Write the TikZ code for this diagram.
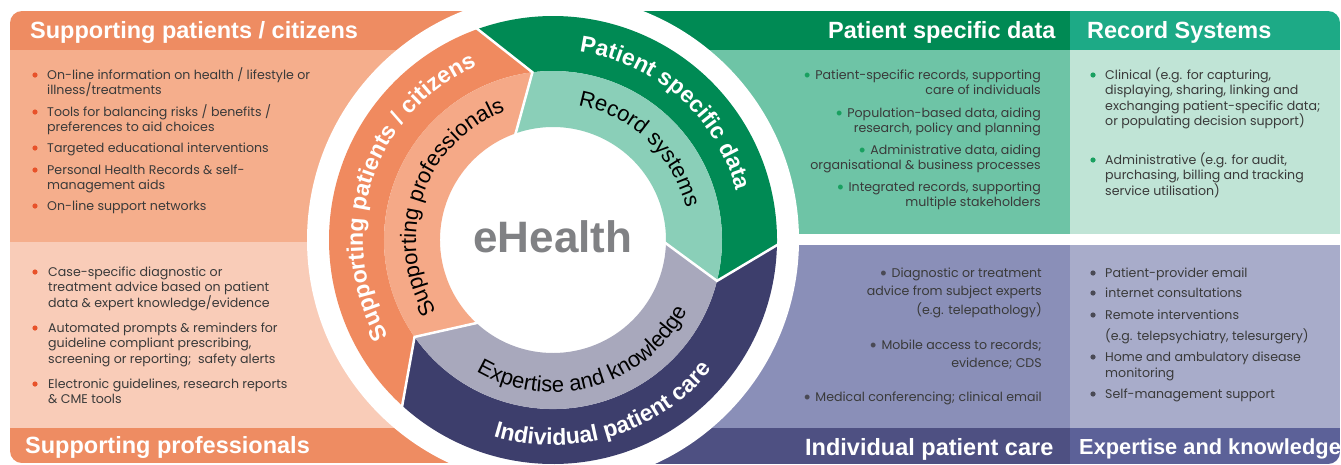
\documentclass[tikz,border=0pt]{standalone}
\usepackage{fontspec}
\setmainfont{Liberation Sans}
\newfontfamily\bodyfont{Poppins}
\newfontfamily\bulfont{Liberation Sans}
\usetikzlibrary{decorations.text}
\definecolor{orH}{HTML}{EE8C62}
\definecolor{orT}{HTML}{F5AE8C}
\definecolor{orB}{HTML}{F9CCB8}
\definecolor{gH}{HTML}{008A54}
\definecolor{rsH}{HTML}{1DAA86}
\definecolor{gB}{HTML}{6EC4A6}
\definecolor{rsB}{HTML}{C0E4D6}
\definecolor{pB}{HTML}{8A8FB8}
\definecolor{eB}{HTML}{A8ACCA}
\definecolor{pH}{HTML}{4E5082}
\definecolor{eH}{HTML}{5C6198}
\definecolor{ringOr}{HTML}{F08A5F}
\definecolor{ringOrL}{HTML}{F5A987}
\definecolor{ringG}{HTML}{008A54}
\definecolor{ringGL}{HTML}{8ACFB8}
\definecolor{ringN}{HTML}{3D3E6C}
\definecolor{ringNL}{HTML}{A8A8BC}
\definecolor{txt}{HTML}{3A3A3A}
\definecolor{obul}{HTML}{E8522A}
\definecolor{gbul}{HTML}{19A060}
\definecolor{pbul}{HTML}{4A4A55}
\definecolor{ehg}{HTML}{808184}
\newcommand\bul[1]{{\color{#1}\bulfont\fontsize{18}{18}\selectfont\raisebox{-2.5pt}{•}}\hspace{5pt}}
\newcommand\outerfont{\color{white}\fontsize{23}{23}\selectfont\bfseries}
\newcommand\innerfont{\color{black}\fontsize{22}{22}\selectfont}
\tikzset{
  hdr/.style={font=\fontsize{23.5}{26}\selectfont\bfseries, text=white, inner sep=0pt, anchor=base west},
  body/.style={font=\bodyfont\fontsize{12.6}{15.5}\selectfont, text=txt, inner sep=0pt, align=left, anchor=base west},
  bodyR/.style={body, align=right, anchor=base east},
  bodyRw/.style={bodyR, font=\bodyfont\fontsize{12.6}{18.5}\selectfont},
  chev/.style={draw=white, line width=2.5pt, line join=miter},
}
\begin{document}
\begin{tikzpicture}[x=1pt,y=-1pt]
\useasboundingbox (0,0) rectangle (1341,464);
\fill[white] (0,0) rectangle (1341,464);
% left panel
\begin{scope}
\clip[rounded corners=12] (10,11) rectangle (620,463);
\fill[orH] (10,11) rectangle (620,463);
\fill[orT] (10,50) rectangle (620,242);
\fill[orB] (10,242) rectangle (620,428);
\end{scope}
% right panel
\begin{scope}
\clip[rounded corners=12] (500,11) rectangle (1340,464);
\fill[gH] (500,11) rectangle (1070,50);
\fill[rsH] (1070,11) rectangle (1340,50);
\fill[gB] (500,50) rectangle (1070,234);
\fill[rsB] (1070,50) rectangle (1340,234);
\fill[pB] (500,245) rectangle (1070,428);
\fill[eB] (1070,245) rectangle (1340,428);
\fill[pH] (500,428) rectangle (1070,464);
\fill[eH] (1070,428) rectangle (1340,464);
\end{scope}
% ring
\begin{scope}[shift={(553,240)}, x=1pt, y=1pt]
\fill[white] (0,0) circle[radius=246];
\fill[ringOr] (228:224) arc[start angle=228, end angle=110, radius=224] -- (97:169) arc[start angle=97, end angle=215, radius=169] -- cycle;
\fill[ringOrL] (215:169) arc[start angle=215, end angle=97, radius=169] -- (110:113) arc[start angle=110, end angle=228, radius=113] -- cycle;
\fill[ringG] (110:224) arc[start angle=110, end angle=-1, radius=224] -- (-14:169) arc[start angle=-14, end angle=97, radius=169] -- cycle;
\fill[ringGL] (97:169) arc[start angle=97, end angle=-14, radius=169] -- (-1:113) arc[start angle=-1, end angle=110, radius=113] -- cycle;
\fill[ringN] (-1:224) arc[start angle=-1, end angle=-132, radius=224] -- (-145:169) arc[start angle=-145, end angle=-14, radius=169] -- cycle;
\fill[ringNL] (-14:169) arc[start angle=-14, end angle=-145, radius=169] -- (-132:113) arc[start angle=-132, end angle=-1, radius=113] -- cycle;
\draw[chev] (110:226) -- (97:169) -- (110:111);
\draw[chev] (-1:226) -- (-14:169) -- (-1:111);
\draw[chev] (-132:226) -- (-145:169) -- (-132:111);
% ring labels
\path[decorate, decoration={text along path, text align=center, text={|\outerfont|Supporting patients / citizens}}] (215:190) arc[start angle=215, end angle=109, radius=190];
\path[decorate, decoration={text along path, text align=center, text={|\outerfont|Patient specific data}}] (88:190) arc[start angle=88, end angle=9, radius=190];
\path[decorate, decoration={text along path, text align=center, text={|\outerfont|Individual patient care}}] (248:205) arc[start angle=248, end angle=326, radius=205];
\path[decorate, decoration={text along path, text align=center, text={|\innerfont|Supporting professionals}}] (216:137) arc[start angle=216, end angle=106, radius=137];
\path[decorate, decoration={text along path, text align=center, text={|\innerfont|Record systems}}] (84:137) arc[start angle=84, end angle=9, radius=137];
\path[decorate, decoration={text along path, text align=center, text={|\innerfont|Expertise and knowledge}}] (236:152) arc[start angle=236, end angle=336, radius=152];
\node[font=\fontsize{44}{44}\selectfont\bfseries, text=ehg, inner sep=0pt] (eh) at (0,3) {eHealth};
\end{scope}
% headers
\node[hdr] (h1) at (30,38) {Supporting patients / citizens};
\node[hdr] (h2) at (25,453) {Supporting professionals};
\node[hdr] (h3) at (828,38) {Patient specific data};
\node[hdr] (h4) at (1087,38) {Record Systems};
\node[hdr] (h5) at (805,455) {Individual patient care};
\node[hdr, font=\fontsize{21.8}{24}\selectfont\bfseries] (h6) at (1079,454) {Expertise and knowledge};
% left top
\foreach \y in {75,112,148,170,206} \fill[obul] (35,\y) circle[radius=2.6];
\node[body] (lt1) at (47,94.5) {On-line information on health / lifestyle or\\illness/treatments};
\node[body] (lt2) at (47,131.5) {Tools for balancing risks / benefits /\\preferences to aid choices};
\node[body] (lt3) at (47,152) {Targeted educational interventions};
\node[body] (lt4) at (47,189.5) {Personal Health Records \& self-\\management aids};
\node[body] (lt5) at (47,210) {On-line support networks};
% left bottom
\foreach \y in {272,328,384} \fill[obul] (35,\y) circle[radius=2.6];
\node[body] (lb1) at (48,307) {Case-specific diagnostic or\\treatment advice based on patient\\data \& expert knowledge/evidence};
\node[body] (lb2) at (48,363) {Automated prompts \& reminders for\\guideline compliant prescribing,\\screening or reporting;\ \ safety alerts};
\node[body] (lb3) at (48,403.5) {Electronic guidelines, research reports\\\& CME tools};
% patient specific data
\node[bodyR] (pd1) at (1041,94.5) {\bul{gbul}Patient-specific records, supporting\\care of individuals};
\node[bodyR] (pd2) at (1041,132.5) {\bul{gbul}Population-based data, aiding\\research, policy and planning};
\node[bodyR] (pd3) at (1041,169.5) {\bul{gbul}Administrative data, aiding\\organisational \& business processes};
\node[bodyR] (pd4) at (1041,206.5) {\bul{gbul}Integrated records, supporting\\multiple stakeholders};
% record systems
\foreach \y in {75,160} \fill[gbul] (1093,\y) circle[radius=2.6];
\node[body] (rs1) at (1105,125.5) {Clinical (e.g. for capturing,\\displaying, sharing, linking and\\exchanging patient-specific data;\\or populating decision support)};
\node[body] (rs2) at (1105,195) {Administrative (e.g. for audit,\\purchasing, billing and tracking\\service utilisation)};
% individual patient care
\node[bodyRw] (ip1) at (1042,314) {\bul{pbul}Diagnostic or treatment\\advice from subject experts\\(e.g. telepathology)};
\node[bodyRw] (ip2) at (1042,367.5) {\bul{pbul}Mobile access to records;\\evidence; CDS};
\node[bodyRw] (ip3) at (1042,401) {\bul{pbul}Medical conferencing; clinical email};
% expertise and knowledge
\foreach \y in {273,293,315,357,394} \fill[pbul] (1093,\y) circle[radius=2.6];
\node[body] (ek1) at (1105,277) {Patient-provider email};
\node[body] (ek2) at (1105,297) {internet consultations};
\node[body] (ek3) at (1105,319) {Remote interventions};
\node[body] (ek3b) at (1105,340) {(e.g. telepsychiatry, telesurgery)};
\node[body] (ek4) at (1105,377) {Home and ambulatory disease\\monitoring};
\node[body] (ek5) at (1105,398) {Self-management support};
\end{tikzpicture}
\end{document}
